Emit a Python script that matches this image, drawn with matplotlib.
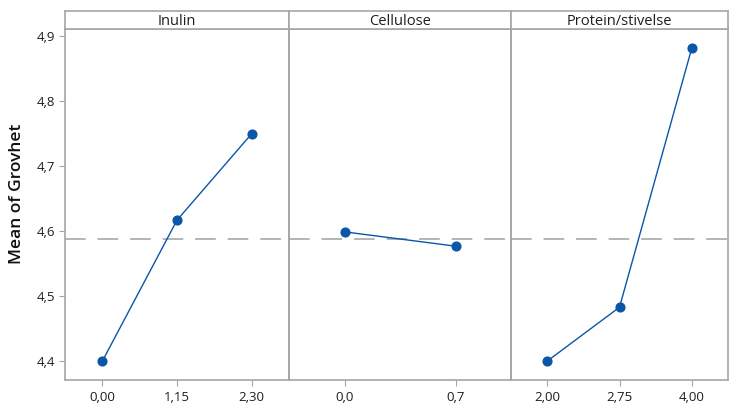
import matplotlib
matplotlib.use("Agg")
import matplotlib.pyplot as plt

# Main effects data (factor levels and fitted means)
factors = ["Inulin", "Cellulose", "Protein/stivelse"]
levels_inulin = ["0,00", "1,15", "2,30"]
levels_cellulose = ["0,0", "0,7"]
levels_protein = ["2,00", "2,75", "4,00"]
means_inulin = [4.400, 4.617, 4.750]
means_cellulose = [4.599, 4.577]
means_protein = [4.400, 4.483, 4.882]
grand_mean = 4.588
y_ticks = [4.4, 4.5, 4.6, 4.7, 4.8, 4.9]
y_ticklabels = ["4,4", "4,5", "4,6", "4,7", "4,8", "4,9"]
y_label = "Mean of Grovhet"

levels = [levels_inulin, levels_cellulose, levels_protein]
means = [means_inulin, means_cellulose, means_protein]

W, H = 729, 403
fig = plt.figure(figsize=(W / 100, H / 100), dpi=100)
plt.rcParams["font.family"] = ["Open Sans", "DejaVu Sans"]

frame = "#a6a6a6"
blue = "#0a56a8"
text_col = "#1e1e1e"

# panel edges in pixel columns
edges = [65, 289, 511, 728]
y_bot, y_top, y_head = 380, 28.5, 11
ylim = (4.371, 4.912)

for i, (name, lv, mv) in enumerate(zip(factors, levels, means)):
    x0, x1 = edges[i], edges[i + 1]
    ax = fig.add_axes([x0 / W, 1 - y_bot / H, (x1 - x0) / W, (y_bot - y_top) / H])
    pos = list(range(len(lv)))
    ax.axhline(grand_mean, color="#a0a0a0", lw=1.1, dashes=(13.5, 7.8), zorder=1)
    ax.plot(pos, mv, color=blue, lw=1.0, marker="o", ms=6.3, mfc=blue, mec=blue, zorder=3)
    ax.set_xlim(-0.5, len(lv) - 0.5)
    ax.set_ylim(*ylim)
    ax.set_xticks(pos)
    ax.set_xticklabels(lv, fontsize=9.5, color=text_col)
    ax.set_yticks(y_ticks)
    if i == 0:
        ax.set_yticklabels(y_ticklabels, fontsize=9.5, color=text_col)
        ax.tick_params(axis="y", length=4, color=frame, pad=3)
    else:
        ax.tick_params(axis="y", length=0, labelleft=False)
    ax.tick_params(axis="x", length=4, color=frame, pad=4)
    for s in ax.spines.values():
        s.set_color(frame)
        s.set_linewidth(1.2)
    ax.patch.set_alpha(0)

    # header strip
    hx = fig.add_axes([x0 / W, 1 - y_top / H, (x1 - x0) / W, (y_top - y_head) / H])
    hx.set_xticks([])
    hx.set_yticks([])
    for s in hx.spines.values():
        s.set_color(frame)
        s.set_linewidth(1.2)
    hx.text(0.5, 0.42, name, ha="center", va="center", fontsize=10.5, color=text_col,
            transform=hx.transAxes)

fig.text(17 / W, 1 - 194 / H, y_label, rotation=90, ha="center", va="center",
         fontsize=12.5, fontweight="semibold", color="#111111")

fig.savefig("out.png", dpi=100)
